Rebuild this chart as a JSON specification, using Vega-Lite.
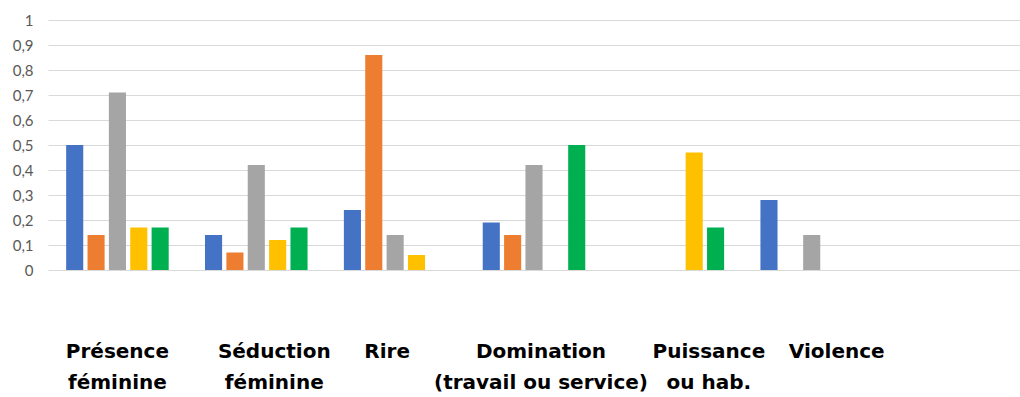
{
  "$schema": "https://vega.github.io/schema/vega-lite/v6.json",
  "width": 972,
  "height": 250,
  "autosize": {"type": "none"},
  "padding": {"left": 48, "top": 20, "right": 0, "bottom": 127},
  "background": "white",
  "config": {"view": {"stroke": null}},
  "data": {
    "values": [
      {"categorie": "Présence|féminine", "serie": "Série 1", "valeur": 0.5},
      {"categorie": "Présence|féminine", "serie": "Série 2", "valeur": 0.14},
      {"categorie": "Présence|féminine", "serie": "Série 3", "valeur": 0.71},
      {"categorie": "Présence|féminine", "serie": "Série 4", "valeur": 0.17},
      {"categorie": "Présence|féminine", "serie": "Série 5", "valeur": 0.17},
      {"categorie": "Séduction|féminine", "serie": "Série 1", "valeur": 0.14},
      {"categorie": "Séduction|féminine", "serie": "Série 2", "valeur": 0.07},
      {"categorie": "Séduction|féminine", "serie": "Série 3", "valeur": 0.42},
      {"categorie": "Séduction|féminine", "serie": "Série 4", "valeur": 0.12},
      {"categorie": "Séduction|féminine", "serie": "Série 5", "valeur": 0.17},
      {"categorie": "Rire", "serie": "Série 1", "valeur": 0.24},
      {"categorie": "Rire", "serie": "Série 2", "valeur": 0.86},
      {"categorie": "Rire", "serie": "Série 3", "valeur": 0.14},
      {"categorie": "Rire", "serie": "Série 4", "valeur": 0.06},
      {"categorie": "Domination|(travail ou service)", "serie": "Série 1", "valeur": 0.19},
      {"categorie": "Domination|(travail ou service)", "serie": "Série 2", "valeur": 0.14},
      {"categorie": "Domination|(travail ou service)", "serie": "Série 3", "valeur": 0.42},
      {"categorie": "Domination|(travail ou service)", "serie": "Série 5", "valeur": 0.5},
      {"categorie": "Puissance|ou hab.", "serie": "Série 4", "valeur": 0.47},
      {"categorie": "Puissance|ou hab.", "serie": "Série 5", "valeur": 0.17},
      {"categorie": "Violence", "serie": "Série 1", "valeur": 0.28},
      {"categorie": "Violence", "serie": "Série 3", "valeur": 0.14}
    ]
  },
  "mark": {"type": "bar"},
  "encoding": {
    "x": {
      "field": "categorie",
      "type": "nominal",
      "scale": {
        "domain": ["Présence|féminine", "Séduction|féminine", "Rire", "Domination|(travail ou service)", "Puissance|ou hab.", "Violence", " "],
        "paddingInner": 0,
        "paddingOuter": 0
      },
      "axis": {
        "title": null,
        "domain": false,
        "ticks": false,
        "grid": false,
        "labelAngle": 0,
        "labelAlign": "center",
        "labelBaseline": "top",
        "labelFont": "DejaVu Sans",
        "labelFontWeight": "bold",
        "labelFontSize": 20,
        "labelColor": "#000000",
        "labelLineHeight": 31,
        "labelPadding": 71,
        "labelLimit": 0,
        "labelOverlap": false,
        "labelBound": false,
        "labelExpr": "split(datum.label, '|')",
        "labelOffset": {
          "condition": [
            {"test": "datum.value === 'Séduction|féminine'", "value": 18},
            {"test": "datum.value === 'Rire'", "value": -8},
            {"test": "datum.value === 'Domination|(travail ou service)'", "value": 7},
            {"test": "datum.value === 'Puissance|ou hab.'", "value": 36},
            {"test": "datum.value === 'Violence'", "value": 25}
          ],
          "value": 0
        }
      }
    },
    "xOffset": {
      "field": "serie",
      "type": "nominal",
      "scale": {
        "domain": ["Série 1", "Série 2", "Série 3", "Série 4", "Série 5"],
        "paddingInner": 0.2,
        "paddingOuter": 0.85
      }
    },
    "y": {
      "field": "valeur",
      "type": "quantitative",
      "scale": {"domain": [0, 1], "nice": false},
      "axis": {
        "title": null,
        "domain": false,
        "ticks": false,
        "grid": true,
        "gridColor": "#D9D9D9",
        "gridWidth": 1,
        "values": [0, 0.1, 0.2, 0.3, 0.4, 0.5, 0.6, 0.7, 0.8, 0.9, 1],
        "format": ".1~f",
        "labelExpr": "replace(datum.label, '.', ',')",
        "labelFont": "Lato",
        "labelFontSize": 15,
        "labelColor": "#595959",
        "labelPadding": 15
      }
    },
    "color": {
      "field": "serie",
      "type": "nominal",
      "scale": {
        "domain": ["Série 1", "Série 2", "Série 3", "Série 4", "Série 5"],
        "range": ["#4472C4", "#ED7D31", "#A5A5A5", "#FFC000", "#00B050"]
      },
      "legend": null
    }
  }
}
